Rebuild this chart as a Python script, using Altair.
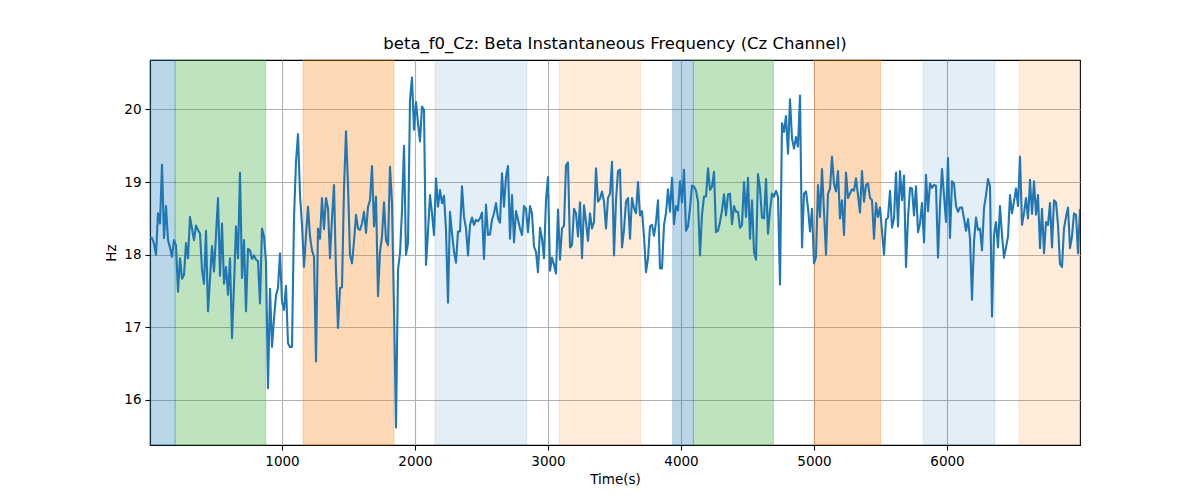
import altair as alt
import numpy as np
import pandas as pd

TITLE = "beta_f0_Cz: Beta Instantaneous Frequency (Cz Channel)"

# Beta instantaneous frequency (Hz) in consecutive stretches
SEG1 = [18.24, 18.23, 18.15, 18.0, 18.57, 18.43, 19.24, 18.23, 18.67, 18.2, 18.1, 17.97, 18.2, 18.13,
        17.49, 17.95, 17.67, 17.72, 18.16, 17.95, 18.52, 18.36, 18.2, 18.4, 18.34, 18.29, 17.79, 17.6,
        18.33, 17.22, 17.67, 18.12, 17.77, 18.27, 18.78, 17.71, 18.43, 17.6, 17.83, 17.45, 17.95, 16.85,
        17.58, 18.39, 17.95, 19.13, 17.68, 18.2, 17.22, 18.08, 18.06, 17.94, 17.99]
SEG2 = [17.93, 17.91, 17.33, 18.36, 18.25, 17.9, 16.16, 17.53, 16.73, 17.12, 17.44, 17.54, 18.02, 17.35,
        17.24, 17.57, 16.78, 16.73, 16.73, 18.5, 19.28, 19.66, 18.82, 18.41, 17.83, 18.27, 18.66, 18.25,
        18.06, 17.97, 16.53, 18.36, 18.22, 18.78, 18.35, 18.78, 18.64, 17.95, 18.5, 18.96, 17.77, 16.99,
        17.54, 17.55, 18.91, 19.7, 18.96, 18.0, 17.88, 18.18, 18.55, 18.36]
SEG3 = [18.34, 18.43, 18.59, 18.3, 18.66, 18.75, 19.22, 18.39, 18.8, 17.43, 18.04, 18.25, 18.72, 18.2,
        18.13, 19.21, 18.71, 17.24, 15.62, 17.79, 18.02, 18.61, 19.5, 18.0, 18.16, 20.13, 20.44, 19.72,
        20.1, 19.81, 19.56, 20.04, 19.99, 17.86, 18.32, 18.82, 18.57, 18.27, 19.05, 18.66, 18.89, 18.71,
        18.81, 18.34, 17.34, 18.59, 18.29, 18.04, 17.89, 18.32, 18.32, 18.94]
SEG4 = [18.52, 18.36, 17.99, 18.41, 18.51, 18.41, 18.48, 18.46, 18.5, 18.58, 17.94, 18.69, 18.27, 18.28,
        18.48, 18.57, 18.71, 18.5, 18.44, 19.12, 18.66, 19.07, 19.22, 18.22, 18.82, 18.17, 18.6, 18.48,
        18.36, 18.27, 18.67, 18.63, 18.31, 18.67, 18.57, 18.11, 18.04, 17.76, 18.37, 18.22, 17.95, 18.75,
        19.07, 17.78, 17.96, 17.86, 17.74, 18.62, 17.93, 18.36, 18.4, 19.23]
SEG5 = [19.27, 18.1, 18.13, 18.63, 18.57, 18.25, 18.72, 17.95, 18.68, 18.45, 18.19, 18.57, 18.36, 18.45,
        19.19, 18.73, 18.77, 18.87, 18.73, 18.36, 18.78, 18.84, 19.28, 17.99, 18.75, 19.15, 19.17, 18.1,
        18.34, 18.73, 18.78, 18.22, 18.78, 18.64, 18.57, 19.0, 18.54, 18.6, 18.25, 17.76, 17.95, 18.39,
        18.41, 18.26, 18.45, 18.75, 17.81, 17.81, 18.41, 18.57, 18.9, 18.59]
SEG6 = [19.06, 18.42, 18.67, 18.61, 19.01, 18.72, 19.17, 18.33, 18.39, 18.64, 18.95, 18.94, 18.88, 18.73,
        17.99, 18.55, 18.8, 18.8, 19.19, 18.89, 18.94, 19.14, 18.31, 18.33, 18.45, 18.61, 18.83, 18.54,
        18.83, 18.84, 18.42, 18.67, 18.59, 18.59, 18.37, 18.41, 19.0, 18.52, 19.06, 18.22, 18.75, 18.04,
        17.93, 19.11, 18.91, 18.51, 18.5, 19.04, 18.29, 18.61, 18.84, 18.8]
SEG7 = [18.88, 18.8, 17.59, 19.81, 19.69, 19.91, 19.39, 20.14, 19.6, 19.46, 19.62, 19.49, 20.19, 18.1,
        18.84, 18.87, 18.64, 18.32, 18.63, 17.88, 17.97, 18.96, 18.52, 19.18, 18.59, 18.0, 18.84, 18.91,
        19.35, 18.98, 18.87, 19.15, 18.5, 18.75, 18.27, 19.13, 18.78, 18.84, 18.9, 18.88, 19.05, 18.82,
        18.58, 19.15, 18.73, 18.96, 18.98, 18.78, 18.75, 18.22, 18.71, 18.52]
SEG8 = [18.65, 18.32, 18.0, 18.48, 18.51, 18.88, 18.37, 18.5, 19.13, 18.39, 19.15, 18.75, 19.09, 17.83,
        18.5, 18.92, 18.91, 18.54, 18.94, 18.31, 18.43, 18.71, 18.17, 19.1, 18.6, 18.98, 18.92, 18.96,
        18.95, 17.96, 18.68, 19.18, 18.82, 18.45, 19.33, 18.23, 19.01, 18.98, 18.67, 18.59, 18.65, 18.65,
        18.5, 18.33, 18.49, 18.22, 17.38, 18.18, 18.51, 18.34, 18.36, 18.06]
SEG9 = [18.64, 18.82, 19.04, 18.94, 17.15, 18.27, 18.45, 18.1, 18.67, 18.27, 17.96, 18.1, 18.25, 18.82,
        18.57, 18.73, 18.91, 18.67, 19.35, 18.41, 18.57, 18.78, 18.5, 19.03, 18.56, 19.01, 18.55, 18.82,
        18.09, 18.63, 18.02, 18.45, 18.41, 18.71, 18.1, 18.75, 18.72, 18.41, 17.87, 17.83, 18.36, 18.52,
        18.65, 18.09, 18.25, 18.57, 18.55, 18.02, 18.63]

T_FIRST = 7.5     # first sample time (s)
T_LAST = 7000.0   # last sample time (s)

# Shaded event windows
REGION_START = [8, 196, 1158, 2150, 3083, 3938, 4093, 5003, 5820, 6541]
REGION_END = [196, 877, 1842, 2840, 3697, 4093, 4695, 5501, 6359, 7000]
REGION_COLOR = ["#1f77b4", "#2ca02c", "#ff7f0e", "#1f77b4", "#ff7f0e",
                "#1f77b4", "#2ca02c", "#ff7f0e", "#1f77b4", "#ff7f0e"]
REGION_ALPHA = [0.3, 0.3, 0.3, 0.12, 0.15, 0.3, 0.3, 0.3, 0.12, 0.15]

X_TICKS = [1000, 2000, 3000, 4000, 5000, 6000]
Y_TICKS = [16, 17, 18, 19, 20]
X_DOMAIN = [7.5, 7000]
Y_DOMAIN = [15.38, 20.68]

values = SEG1 + SEG2 + SEG3 + SEG4 + SEG5 + SEG6 + SEG7 + SEG8 + SEG9
times = np.linspace(T_FIRST, T_LAST, len(values))
df = pd.DataFrame({"time": times, "hz": values})
regions = pd.DataFrame({"start": REGION_START, "end": REGION_END,
                        "color": REGION_COLOR, "alpha": REGION_ALPHA})

W, H = 930, 385
FONT = "DejaVu Sans"

xscale = alt.Scale(domain=X_DOMAIN, nice=False, zero=False)
yscale = alt.Scale(domain=Y_DOMAIN, nice=False, zero=False)
xaxis = alt.Axis(values=X_TICKS, format="d", title="Time(s)")
yaxis = alt.Axis(values=Y_TICKS, format="d", title="Hz")

spans = alt.Chart(regions).mark_rect(strokeWidth=1).encode(
    x=alt.X("start:Q", scale=xscale, axis=xaxis),
    x2="end:Q",
    y=alt.value(0),
    y2=alt.value(H),
    fill=alt.Fill("color:N", scale=None),
    stroke=alt.Stroke("color:N", scale=None),
    fillOpacity=alt.FillOpacity("alpha:Q", scale=None),
    strokeOpacity=alt.StrokeOpacity("alpha:Q", scale=None),
)

line = alt.Chart(df).mark_line(color="#1f77b4", strokeWidth=2.1, strokeJoin="round", clip=True).encode(
    x=alt.X("time:Q", scale=xscale, axis=xaxis),
    y=alt.Y("hz:Q", scale=yscale, axis=yaxis),
)

chart = alt.layer(spans, line).properties(
    width=W,
    height=H,
    title=alt.TitleParams(text=TITLE, font=FONT, fontSize=16.5, fontWeight="normal",
                          color="black", anchor="middle", frame="group", offset=7),
    autosize=alt.AutoSizeParams(type="none"),
    padding={"left": 142, "top": 52, "right": 112, "bottom": 47},
).configure_view(
    stroke="black", strokeWidth=1.1
).configure_axis(
    labelFont=FONT, labelFontSize=13.5, labelColor="black",
    titleFont=FONT, titleFontSize=13.5, titleColor="black", titleFontWeight="normal",
    domainColor="black", domainWidth=1.1,
    tickColor="black", tickWidth=1.1, tickSize=5, labelPadding=4,
    grid=True, gridColor="#b0b0b0", gridWidth=1.1, gridOpacity=1,
    titlePadding=5,
)

chart.save("out.html", embed_options={"renderer": "svg", "actions": False})
